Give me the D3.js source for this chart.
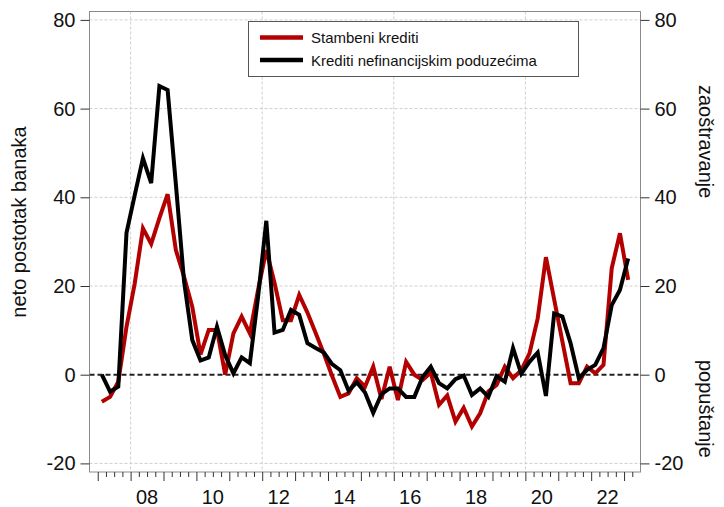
<!DOCTYPE html>
<html>
<head>
<meta charset="utf-8">
<script src="https://cdn.jsdelivr.net/npm/d3@7"></script>
<style>
  html, body { margin: 0; padding: 0; background: #fff; }
  svg { display: block; font-family: "Liberation Sans", Arial, sans-serif; }
</style>
</head>
<body>
<svg id="chart" width="724" height="507"></svg>
<script>
// Quarterly survey: net percentage of banks, 2007Q1 - 2023Q1
const firstYear = 2007;
const seriesNames = ["Stambeni krediti", "Krediti nefinancijskim poduzećima"];
const seriesColors = ["#b30000", "#000000"];

const stambeni = [
  -6.1, -5.0, -1.6, 10.8, 20.6, 33.0, 29.5, 35.3, 40.7, 28.1,
  22.1, 15.3, 4.6, 10.1, 10.1, 0.0, 9.3, 13.1, 9.3, 19.1,
  28.1, 20.7, 12.3, 12.3, 18.0, 14.0, 9.4, 4.7, -0.3, -5.0,
  -4.2, -0.8, -2.7, 1.8, -5.5, 1.8, -5.7, 2.9, 0.0, -1.2,
  0.5, -6.8, -4.7, -10.6, -7.5, -11.7, -8.7, -3.8, -2.3, 1.8,
  -0.8, 1.0, 4.8, 12.7, 26.5, 17.0, 7.5, -1.9, -1.9, 1.8,
  0.3, 2.2, 24.0, 31.9, 21.4
];
const poduzeca = [
  0.0, -3.8, -2.7, 32.0, 40.5, 48.8, 43.2, 65.1, 64.2, 43.0,
  21.0, 7.8, 3.2, 3.9, 10.8, 4.4, 0.3, 3.9, 2.6, 17.6,
  34.7, 9.5, 10.1, 14.6, 13.5, 7.1, 6.0, 5.0, 2.4, 1.0,
  -3.6, -1.7, -4.0, -8.6, -4.4, -3.1, -3.1, -5.0, -5.0, -0.5,
  1.8, -1.9, -3.1, -1.0, -0.2, -4.6, -3.1, -5.0, -0.3, -1.6,
  6.0, 0.2, 2.9, 5.0, -4.8, 13.8, 13.1, 7.1, -0.8, 1.1,
  2.2, 6.0, 15.7, 19.1, 26.2
];

const yTicks = [-20, 0, 20, 40, 60, 80];
const yGrid = [-20, 20, 40, 60, 80];
const yearTicks = d3.range(2007, 2024);          // year boundaries
const gridYears = [2008, 2012, 2016, 2020];
const xLabelYears = [2008, 2010, 2012, 2014, 2016, 2018, 2020, 2022];

const svg = d3.select("#chart");
const frame = { left: 89.5, right: 640.5, top: 11.5, bottom: 472 };

const x = d3.scaleLinear().domain([2006.75, 2023.5]).range([frame.left, frame.right]);
const y = d3.scaleLinear().domain([-20, 80]).range([463.4, 19.9]);

// quarter mid-points
const t = i => firstYear + Math.floor(i / 4) + (i % 4) / 4 + 0.125;

// grid
const grid = svg.append("g");
grid.selectAll("line.h").data(yGrid).join("line")
  .attr("x1", frame.left).attr("x2", frame.right)
  .attr("y1", d => y(d)).attr("y2", d => y(d))
  .attr("stroke", "#cfcfcf").attr("stroke-width", 1).attr("stroke-dasharray", "3,2");
grid.selectAll("line.v").data(gridYears).join("line")
  .attr("x1", d => x(d)).attr("x2", d => x(d))
  .attr("y1", frame.top).attr("y2", frame.bottom)
  .attr("stroke", "#cfcfcf").attr("stroke-width", 1).attr("stroke-dasharray", "3,2");

// zero line
svg.append("line")
  .attr("x1", frame.left).attr("x2", frame.right)
  .attr("y1", y(0)).attr("y2", y(0))
  .attr("stroke", "#222").attr("stroke-width", 2).attr("stroke-dasharray", "5,3");

// frame
svg.append("rect")
  .attr("x", frame.left).attr("y", frame.top)
  .attr("width", frame.right - frame.left).attr("height", frame.bottom - frame.top)
  .attr("fill", "none").attr("stroke", "#8a8a8a").attr("stroke-width", 1);

// y axes (left and right); plain hyphen for negatives
const fmt = d => String(d);
const leftAxis = d3.axisLeft(y).tickValues(yTicks).tickSize(9).tickPadding(5).tickFormat(fmt);
const rightAxis = d3.axisRight(y).tickValues(yTicks).tickSize(9).tickPadding(5).tickFormat(fmt);
function styleAxis(g) {
  g.select(".domain").remove();
  g.selectAll(".tick line").attr("stroke", "#333");
  g.selectAll(".tick text").attr("fill", "#111").style("font-size", "20px")
    .style("font-family", "'Liberation Sans', Arial, sans-serif");
}
svg.append("g").attr("transform", `translate(${frame.left},0)`).call(leftAxis).call(styleAxis);
svg.append("g").attr("transform", `translate(${frame.right},0)`).call(rightAxis).call(styleAxis);

// x axis: year ticks, quarter ticks, labels centred on years
const quarterTicks = [];
yearTicks.forEach(yr => { [0.25, 0.5, 0.75].forEach(q => { if (yr + q < 2023.5) quarterTicks.push(yr + q); }); });
const xAxisMajor = d3.axisBottom(x).tickValues(yearTicks).tickSize(9).tickFormat("");
const xAxisMinor = d3.axisBottom(x).tickValues(quarterTicks).tickSize(5).tickFormat("");
[xAxisMajor, xAxisMinor].forEach(ax => {
  const g = svg.append("g").attr("transform", `translate(0,${frame.bottom})`).call(ax);
  g.select(".domain").remove();
  g.selectAll(".tick line").attr("stroke", "#333");
});
svg.append("g").selectAll("text").data(xLabelYears).join("text")
  .attr("x", d => x(d + 0.5)).attr("y", 504)
  .attr("text-anchor", "middle").style("font-size", "20px").attr("fill", "#111")
  .text(d => String(d % 100).padStart(2, "0"));

// axis titles
svg.append("text")
  .attr("transform", `translate(26,222) rotate(-90)`)
  .attr("text-anchor", "middle").style("font-size", "20px").attr("fill", "#111")
  .text("neto postotak banaka");
svg.append("text")
  .attr("transform", `translate(699,85) rotate(90)`)
  .attr("text-anchor", "start").style("font-size", "20px").attr("fill", "#111")
  .text("zaoštravanje");
svg.append("text")
  .attr("transform", `translate(699,360) rotate(90)`)
  .attr("text-anchor", "start").style("font-size", "20px").attr("fill", "#111")
  .text("popuštanje");

// series
const line = d3.line().x((d, i) => x(t(i))).y(d => y(d));
[stambeni, poduzeca].forEach((vals, k) => {
  svg.append("path").datum(vals)
    .attr("d", line)
    .attr("fill", "none")
    .attr("stroke", seriesColors[k])
    .attr("stroke-width", 4)
    .attr("stroke-linejoin", "miter");
});

// legend
const lg = svg.append("g");
lg.append("rect").attr("x", 248.5).attr("y", 21.5).attr("width", 330).attr("height", 55)
  .attr("fill", "#fff").attr("stroke", "#555").attr("stroke-width", 1);
seriesNames.forEach((name, k) => {
  const ly = 37.5 + k * 22.5;
  lg.append("line").attr("x1", 260).attr("x2", 303).attr("y1", ly).attr("y2", ly)
    .attr("stroke", seriesColors[k]).attr("stroke-width", 4.5);
  lg.append("text").attr("x", 311).attr("y", ly + 5.5)
    .style("font-size", "15px").attr("fill", "#111").text(name);
});
</script>
</body>
</html>
